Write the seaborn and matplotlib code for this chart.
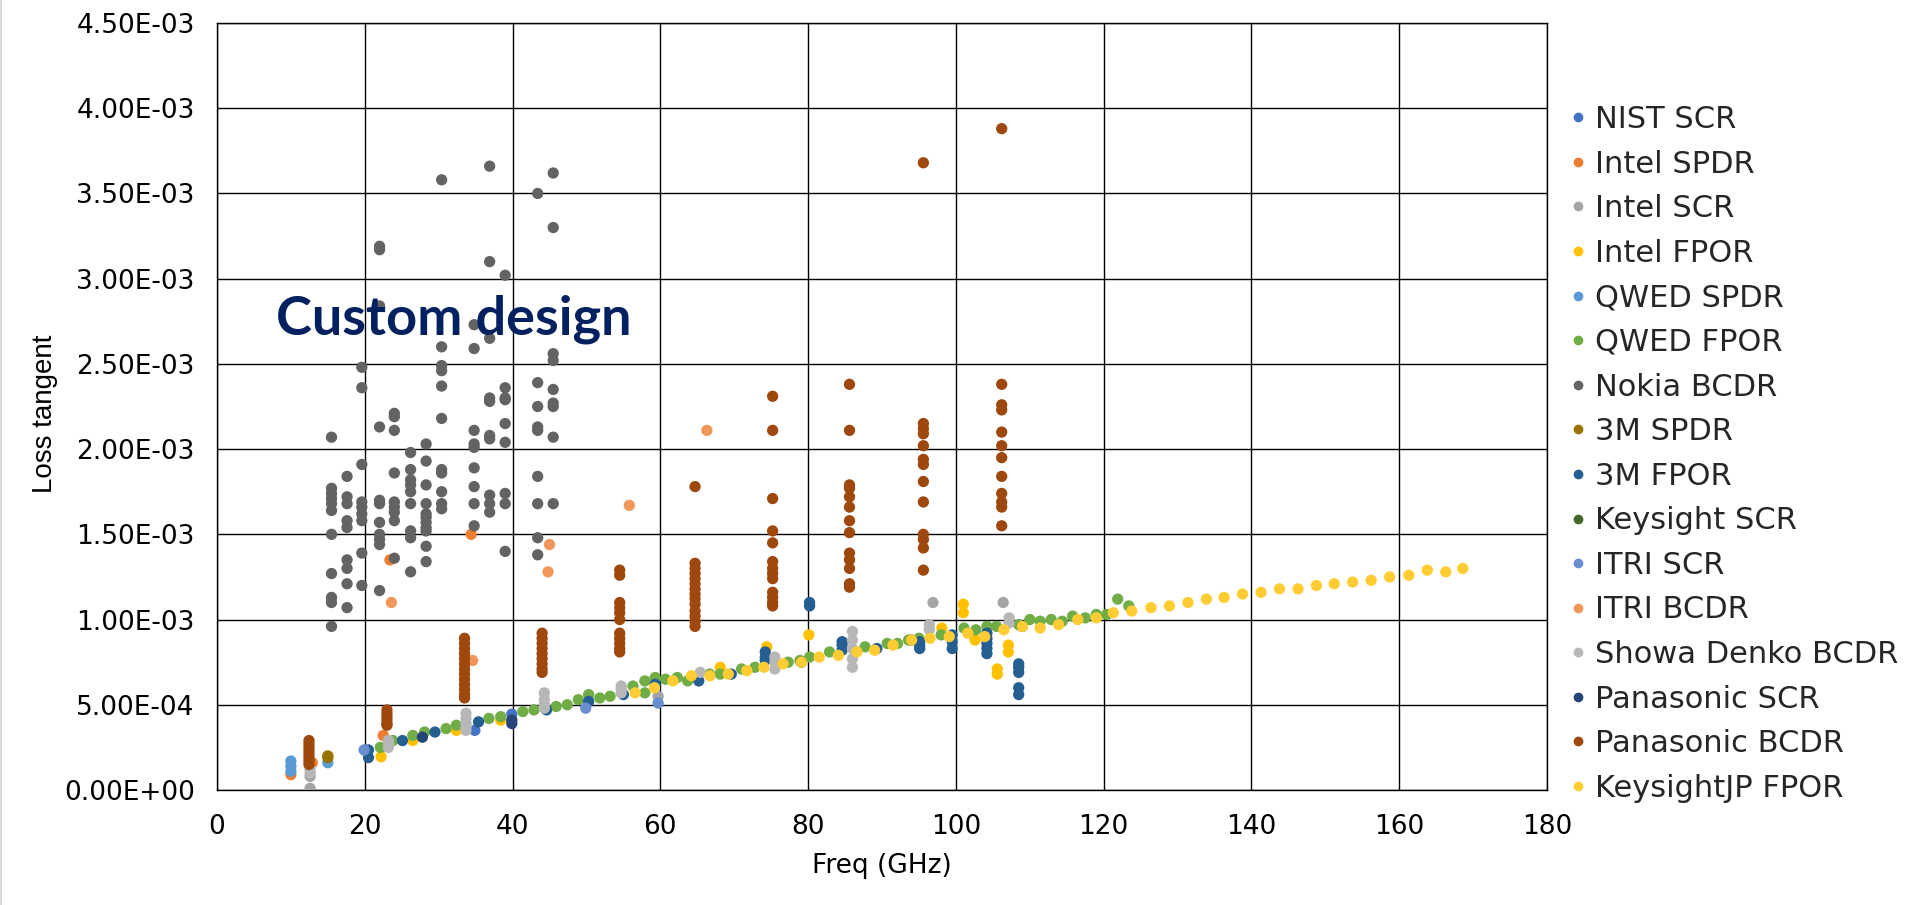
import matplotlib
matplotlib.use("Agg")
import matplotlib.pyplot as plt
from matplotlib.lines import Line2D
from matplotlib.ticker import FuncFormatter, MultipleLocator
import pandas as pd
import seaborn as sns

# Loss tangent values are written in units of 1e-3
SCALE = 1e-3

series_names = [
    "NIST SCR", "Intel SPDR", "Intel SCR", "Intel FPOR", "QWED SPDR",
    "QWED FPOR", "Nokia BCDR", "3M SPDR", "3M FPOR", "Keysight SCR",
    "ITRI SCR", "ITRI BCDR", "Showa Denko BCDR", "Panasonic SCR",
    "Panasonic BCDR", "KeysightJP FPOR",
]
series_colors = [
    "#4472C4", "#ED7D31", "#A5A5A5", "#FFC000", "#5B9BD5",
    "#70AD47", "#636363", "#997300", "#255E91", "#43682B",
    "#698ED0", "#F1975A", "#B7B7B7", "#264478",
    "#9E480E", "#FFCD33",
]

# ---- scattered series (freq GHz, loss tangent x1e-3) ----
nist_scr_f = [34.9, 39.9]
nist_scr_tan = [0.35, 0.445]

intel_spdr_f = [10.0, 12.9, 22.5, 23.4, 34.4]
intel_spdr_tan = [0.09, 0.16, 0.32, 1.35, 1.50]

intel_scr_f = [12.6, 12.6, 59.7, 96.9, 106.4]
intel_scr_tan = [0.01, 0.08, 0.55, 1.10, 1.10]

intel_fpor_f = [22.2, 26.5, 32.4, 38.4, 68.1, 74.4, 80.1, 98.1, 101.0, 101.0,
                102.6, 105.6, 105.6, 107.1, 107.1]
intel_fpor_tan = [0.195, 0.29, 0.35, 0.41, 0.72, 0.84, 0.91, 0.95, 1.09, 1.04,
                  0.88, 0.71, 0.68, 0.85, 0.81]

qwed_spdr_f = [10.0, 10.0, 10.0, 15.0]
qwed_spdr_tan = [0.17, 0.14, 0.11, 0.16]

qwed_fpor_f = [22.1, 23.8, 26.5, 28.1, 31.0, 32.4, 36.8, 38.4, 41.4, 42.9,
               45.9, 47.4, 48.9, 50.3, 51.8, 53.2, 56.3, 57.9, 57.9, 59.3,
               60.7, 62.3, 63.7, 66.7, 68.1, 71.0, 72.8, 77.3, 78.9, 80.2,
               82.9, 87.7, 90.7, 92.1, 93.6, 95.0, 98.0, 101.1, 102.7, 104.2,
               105.5, 108.5, 110.0, 111.4, 112.9, 114.4, 115.8, 117.5, 119.0,
               120.4, 121.9, 123.4]
qwed_fpor_tan = [0.25, 0.29, 0.32, 0.34, 0.36, 0.38, 0.42, 0.43, 0.46, 0.47,
                 0.49, 0.50, 0.53, 0.56, 0.54, 0.55, 0.61, 0.64, 0.57, 0.66,
                 0.65, 0.66, 0.64, 0.68, 0.68, 0.71, 0.72, 0.75, 0.76, 0.78,
                 0.81, 0.84, 0.86, 0.86, 0.88, 0.89, 0.91, 0.95, 0.94, 0.96,
                 0.96, 0.97, 1.00, 0.99, 1.00, 0.99, 1.02, 1.01, 1.03,
                 1.03, 1.12, 1.08]

m3_spdr_f = [15.0, 15.0]
m3_spdr_tan = [0.20, 0.19]

keysight_scr_f = [79.1, 94.0, 109.0]
keysight_scr_tan = [0.75, 0.88, 0.96]

itri_scr_f = [19.9, 49.9, 59.7]
itri_scr_tan = [0.235, 0.48, 0.51]

itri_bcdr_f = [23.6, 34.6, 44.8, 45.0, 55.8, 66.3]
itri_bcdr_tan = [1.10, 0.76, 1.28, 1.44, 1.67, 2.11]

pana_scr_f = [27.8, 39.9, 39.9]
pana_scr_tan = [0.31, 0.39, 0.41]

keysightjp_f = [56.6, 59.2, 61.7, 64.2, 66.7, 69.2, 71.7, 74.0, 76.6, 79.1,
                81.5, 84.1, 86.6, 89.0, 91.5, 94.0, 96.5, 99.1, 101.6, 103.9,
                106.5, 109.0, 111.4, 113.9, 116.5, 119.0, 121.3, 123.8, 126.4,
                128.9, 131.4, 133.9, 136.3, 138.8, 141.3, 143.8, 146.3, 148.8,
                151.2, 153.7, 156.2, 158.7, 161.3, 163.8, 166.3, 168.6]
keysightjp_tan = [0.57, 0.60, 0.64, 0.67, 0.67, 0.68, 0.70, 0.72, 0.74, 0.75,
                  0.78, 0.79, 0.81, 0.82, 0.85, 0.88, 0.89, 0.90, 0.92, 0.90,
                  0.94, 0.96, 0.95, 0.97, 1.00, 1.01, 1.04, 1.05, 1.07,
                  1.08, 1.10, 1.12, 1.13, 1.15, 1.16, 1.18, 1.18, 1.20,
                  1.21, 1.22, 1.23, 1.25, 1.26, 1.29, 1.28, 1.30]

# ---- column series: one frequency with a stack of measurements ----
nokia_cols = [15.5, 17.6, 19.6, 22.0, 24.0, 26.2, 28.3, 30.4, 34.8, 36.9,
              39.0, 43.4, 45.5]
nokia_tan = [
    [2.07, 1.77, 1.74, 1.71, 1.68, 1.64, 1.50, 1.27, 1.13, 1.10, 0.96],
    [1.84, 1.72, 1.68, 1.58, 1.54, 1.35, 1.30, 1.21, 1.07],
    [2.48, 2.36, 1.91, 1.69, 1.66, 1.62, 1.58, 1.39, 1.20],
    [3.19, 3.17, 2.84, 2.13, 1.70, 1.68, 1.57, 1.50, 1.47, 1.44, 1.17],
    [2.21, 2.19, 2.11, 1.86, 1.69, 1.66, 1.63, 1.58, 1.36],
    [1.98, 1.88, 1.82, 1.79, 1.75, 1.68, 1.52, 1.48, 1.28],
    [2.03, 1.93, 1.79, 1.68, 1.62, 1.60, 1.57, 1.54, 1.52, 1.43, 1.34],
    [3.58, 2.60, 2.49, 2.46, 2.37, 2.18, 1.88, 1.86, 1.75, 1.68, 1.65],
    [2.73, 2.59, 2.11, 2.03, 2.01, 1.89, 1.78, 1.68, 1.55],
    [3.66, 3.10, 2.65, 2.30, 2.28, 2.08, 2.06, 1.73, 1.68, 1.63],
    [3.02, 2.36, 2.30, 2.29, 2.15, 2.04, 1.74, 1.68, 1.40],
    [3.50, 2.39, 2.25, 2.13, 2.11, 1.84, 1.68, 1.48, 1.38],
    [3.62, 3.30, 2.56, 2.52, 2.35, 2.27, 2.25, 2.07, 1.68],
]

m3_fpor_cols = [20.5, 25.1, 29.5, 35.4, 44.6, 50.3, 55.0, 59.3, 65.2, 69.6,
                74.2, 80.2, 84.6, 89.3, 95.1, 99.5, 104.2, 108.5]
m3_fpor_tan = [
    [0.235, 0.19], [0.29], [0.34], [0.40], [0.47], [0.52], [0.56], [0.62],
    [0.64], [0.68], [0.81, 0.78, 0.76], [1.10, 1.08], [0.87, 0.85, 0.82],
    [0.83], [0.87, 0.85, 0.83], [0.91, 0.87, 0.83],
    [0.92, 0.89, 0.86, 0.83, 0.80], [0.74, 0.72, 0.69, 0.60, 0.56],
]

showa_cols = [12.6, 23.2, 33.7, 44.3, 54.7, 65.4, 75.5, 86.0, 96.4, 107.2]
showa_tan = [
    [0.12, 0.10], [0.29, 0.27, 0.25], [0.45, 0.42, 0.39, 0.37, 0.35],
    [0.57, 0.53, 0.50, 0.48], [0.61, 0.59, 0.57], [0.69],
    [0.78, 0.75, 0.71], [0.93, 0.88, 0.83, 0.77, 0.72], [0.97, 0.94],
    [1.01, 0.98],
]

pana_bcdr_cols = [12.45, 23.0, 33.5, 44.0, 54.5, 64.7, 75.2, 85.6, 95.6, 106.2]
pana_bcdr_tan = [
    [0.29, 0.27, 0.25, 0.23, 0.21, 0.19, 0.17, 0.15],
    [0.47, 0.45, 0.43, 0.41, 0.39, 0.38],
    [0.89, 0.86, 0.83, 0.80, 0.77, 0.74, 0.71, 0.68, 0.65, 0.62, 0.59, 0.56, 0.54],
    [0.92, 0.89, 0.86, 0.83, 0.80, 0.77, 0.74, 0.71, 0.69],
    [1.29, 1.26, 1.10, 1.07, 1.04, 1.00, 0.92, 0.89, 0.86, 0.83, 0.81],
    [1.78, 1.33, 1.30, 1.27, 1.24, 1.21, 1.18, 1.15, 1.12, 1.09, 1.05, 1.02, 0.99, 0.96],
    [2.31, 2.11, 1.71, 1.52, 1.45, 1.34, 1.30, 1.27, 1.24, 1.16, 1.13, 1.10, 1.08],
    [2.38, 2.11, 1.79, 1.77, 1.72, 1.66, 1.58, 1.51, 1.39, 1.35, 1.30, 1.21, 1.19],
    [3.68, 2.15, 2.12, 2.09, 2.02, 1.94, 1.91, 1.81, 1.69, 1.50, 1.47, 1.42, 1.29],
    [3.88, 2.38, 2.26, 2.23, 2.10, 2.02, 1.95, 1.84, 1.74, 1.69, 1.66, 1.55],
]


def expand(cols, stacks):
    f, t = [], []
    for c, vals in zip(cols, stacks):
        f += [c] * len(vals)
        t += list(vals)
    return f, t


nokia_f, nokia_t = expand(nokia_cols, nokia_tan)
m3_fpor_f, m3_fpor_t = expand(m3_fpor_cols, m3_fpor_tan)
showa_f, showa_t = expand(showa_cols, showa_tan)
pana_bcdr_f, pana_bcdr_t = expand(pana_bcdr_cols, pana_bcdr_tan)

series_data = [
    (nist_scr_f, nist_scr_tan), (intel_spdr_f, intel_spdr_tan),
    (intel_scr_f, intel_scr_tan), (intel_fpor_f, intel_fpor_tan),
    (qwed_spdr_f, qwed_spdr_tan), (qwed_fpor_f, qwed_fpor_tan),
    (nokia_f, nokia_t), (m3_spdr_f, m3_spdr_tan), (m3_fpor_f, m3_fpor_t),
    (keysight_scr_f, keysight_scr_tan), (itri_scr_f, itri_scr_tan),
    (itri_bcdr_f, itri_bcdr_tan), (showa_f, showa_t),
    (pana_scr_f, pana_scr_tan), (pana_bcdr_f, pana_bcdr_t),
    (keysightjp_f, keysightjp_tan),
]

frames = []
for name, (f, t) in zip(series_names, series_data):
    frames.append(pd.DataFrame({"Freq": f, "Loss": [v * SCALE for v in t],
                                "Series": name}))
df = pd.concat(frames, ignore_index=True)

# ---- figure ----
sns.set_theme(style="white")
plt.rcParams["font.family"] = ["DejaVu Sans"]

W, H = 1918, 905
fig = plt.figure(figsize=(W / 100, H / 100), dpi=100)
fig.patch.set_facecolor("white")
left, right, bottom, top = 217, 1547, 790, 23
ax = fig.add_axes([left / W, 1 - bottom / H, (right - left) / W, (bottom - top) / H])

palette = dict(zip(series_names, series_colors))
sns.scatterplot(data=df, x="Freq", y="Loss", hue="Series", hue_order=series_names,
                palette=palette, s=66, linewidth=0, alpha=1, legend=False, ax=ax,
                zorder=3)

ax.set_xlim(0, 180)
ax.set_ylim(0, 4.5e-3)
ax.xaxis.set_major_locator(MultipleLocator(20))
ax.yaxis.set_major_locator(MultipleLocator(0.5e-3))
ax.yaxis.set_major_formatter(FuncFormatter(lambda v, p: f"{v:.2E}"))
ax.xaxis.set_major_formatter(FuncFormatter(lambda v, p: f"{v:.0f}"))
ax.grid(True, color="black", linewidth=1.0)
ax.set_axisbelow(True)
for sp in ax.spines.values():
    sp.set_color("black")
    sp.set_linewidth(1.0)
ax.tick_params(axis="both", length=0, labelsize=19, colors="black")
ax.tick_params(axis="y", pad=16)
ax.tick_params(axis="x", pad=17)

ax.set_xlabel("Freq (GHz)", fontsize=19, color="black", va="center")
ax.xaxis.set_label_coords(0.5, (bottom - 866) / (bottom - top))
ax.set_ylabel("Loss tangent", fontsize=20, color="black", va="center", ha="center",
              family=["Liberation Sans Narrow", "Liberation Sans"])
ax.yaxis.set_label_coords((45 - left) / (right - left), (bottom - 414) / (bottom - top))

ax.text(8.0, 2.67e-3, "Custom design", fontsize=39, fontweight="bold",
        color="#002060", family=["Lato", "DejaVu Sans"], va="baseline", ha="left",
        zorder=5)

handles = [Line2D([0], [0], marker="o", linestyle="none", markersize=7,
                  markerfacecolor=c, markeredgewidth=0) for c in series_colors]
fs = 22
fpx = fs * 100 / 72
fig.legend(handles, series_names, loc="upper left",
           bbox_to_anchor=((1578 - 0.25 * fpx) / W, 1 - 105 / H),
           frameon=False, fontsize=fs, handlelength=0.5, handletextpad=0.3,
           labelspacing=0.51, borderpad=0, borderaxespad=0)

fig.add_artist(Line2D([1 / W, 1 / W], [0, 1], color="#D9D9D9", linewidth=1.5,
                      transform=fig.transFigure))

fig.savefig("out.png", dpi=100, facecolor="white")
